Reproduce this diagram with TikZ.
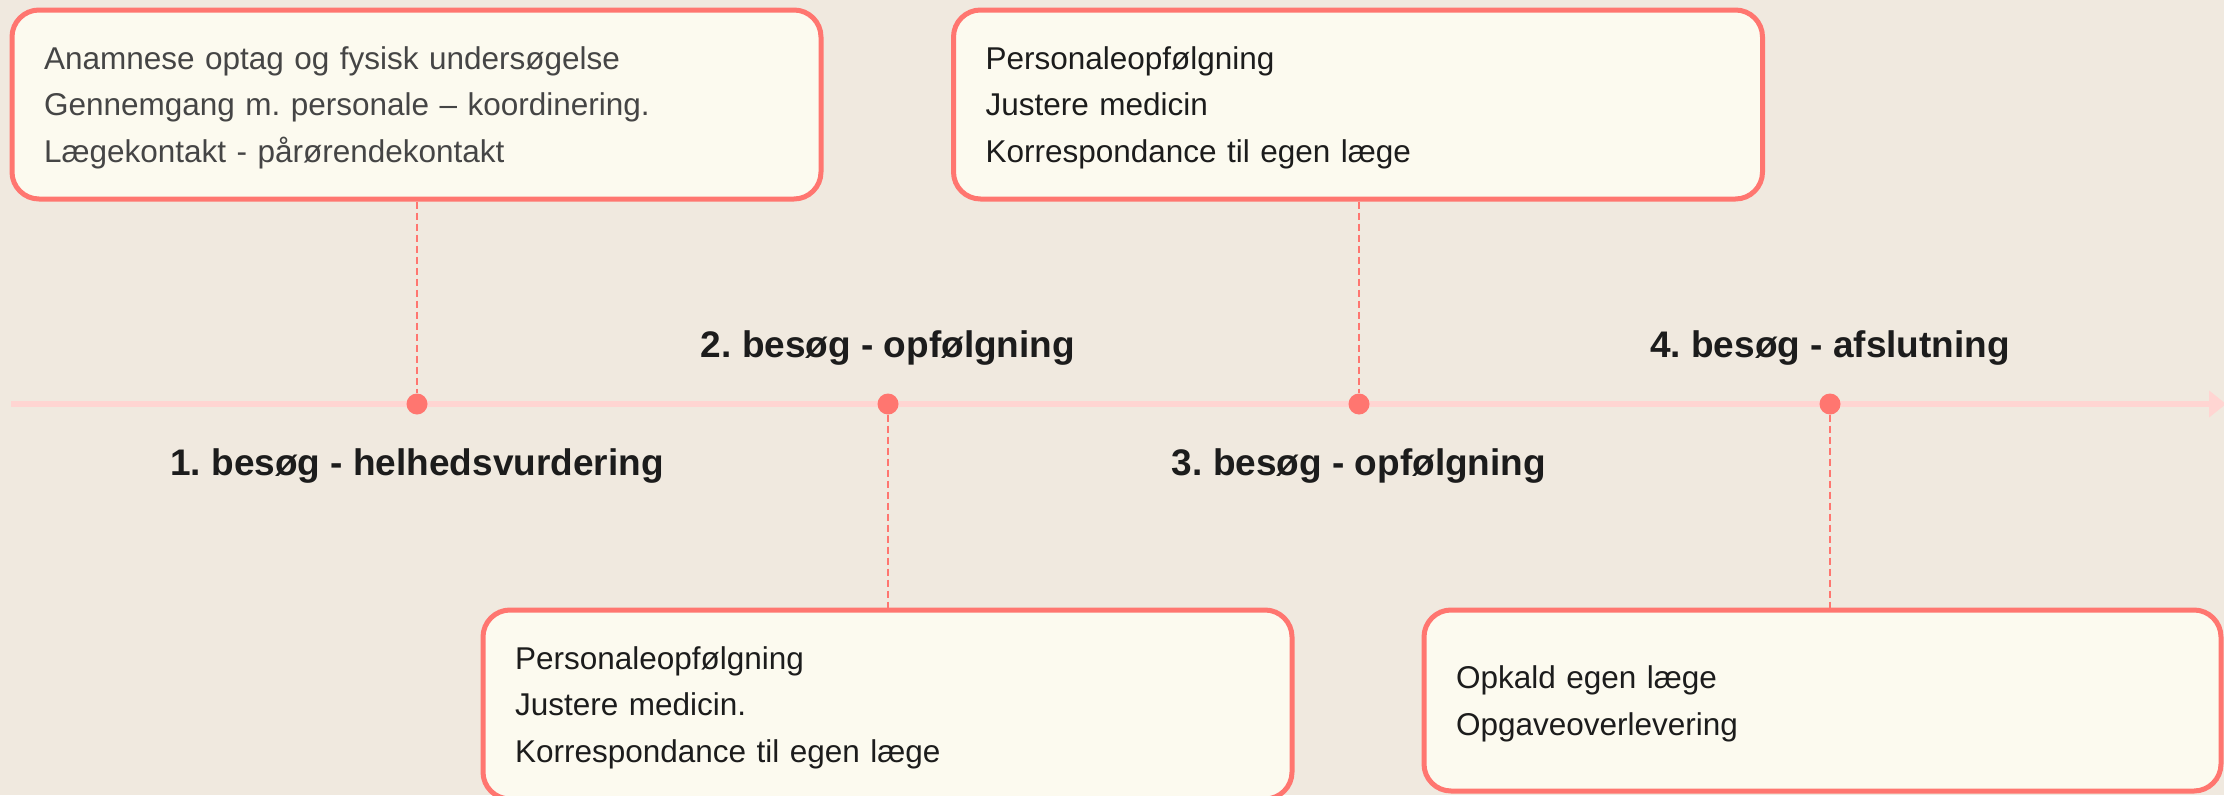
\documentclass[tikz,border=0pt]{standalone}
\usepackage{fontspec}
\setmainfont{Liberation Sans}
\usetikzlibrary{arrows.meta,calc}
\frenchspacing

\definecolor{pagebg}{HTML}{F0E9DF}
\definecolor{cardfill}{HTML}{FCFAEF}
\definecolor{accent}{HTML}{FF7670}
\definecolor{trackpink}{HTML}{FFD5D2}
\definecolor{inkgrey}{HTML}{454545}
\definecolor{inkdark}{HTML}{1C1C1C}

\tikzset{
  card/.style={draw=accent, fill=cardfill, line width=5pt, rounded corners=27pt,
    inner xsep=0pt, inner ysep=0pt, align=left, text width=745pt,
    minimum width=809pt, font=\fontsize{31.5pt}{46.7pt}\selectfont, text=inkdark,
    execute at begin node=\rule{0pt}{29pt}},
  milestone/.style={circle, fill=accent, draw=none, inner sep=0pt, minimum size=21pt},
  visitlabel/.style={font=\fontsize{37pt}{44pt}\selectfont\bfseries, text=inkdark, anchor=base, inner sep=0pt},
  leader/.style={draw=accent, line width=2pt, dash pattern=on 7pt off 4pt},
  track/.style={draw=trackpink, line width=6pt, -{Triangle[length=17pt,width=26pt]}}
}

\begin{document}
\begin{tikzpicture}[x=1pt,y=-1pt]
  % page
  \fill[pagebg] (0,0) rectangle (2224,795);
  \useasboundingbox (0,0) rectangle (2224,795);

  % time axis
  \coordinate (axisstart) at (11,404);
  \coordinate (axisend) at (2226,404);
  \draw[track] (axisstart) -- (axisend);

  % activity cards
  \node[card, minimum height=189pt, text=inkgrey] (card1) at (416.5,104.5)
    {Anamnese optag og fysisk undersøgelse\\
     Gennemgang m. personale – koordinering.\\
     Lægekontakt - pårørendekontakt};
  \node[card, minimum height=189pt] (card3) at (1358,104.5)
    {Personaleopfølgning\\
     Justere medicin\\
     Korrespondance til egen læge};
  \node[card, minimum height=189pt] (card2) at (887.5,704.5)
    {Personaleopfølgning\\
     Justere medicin.\\
     Korrespondance til egen læge};
  \node[card, minimum height=181pt, minimum width=797pt, text width=733pt] (card4) at (1822.5,700.5)
    {Opkald egen læge\\
     Opgaveoverlevering};

  % milestones on the axis
  \node[milestone] (m1) at (417,404) {};
  \node[milestone] (m2) at (888,404) {};
  \node[milestone] (m3) at (1359,404) {};
  \node[milestone] (m4) at (1830,404) {};

  % visit titles
  \node[visitlabel] (t1) at (417,475) {1. besøg - helhedsvurdering};
  \node[visitlabel] (t2) at (888,357) {2. besøg - opfølgning};
  \node[visitlabel] (t3) at (1359,475) {3. besøg - opfølgning};
  \node[visitlabel] (t4) at (1830,357) {4. besøg - afslutning};

  % leaders from cards to milestones
  \draw[leader] (m1 |- card1.south) -- (m1);
  \draw[leader] (m3 |- card3.south) -- (m3);
  \draw[leader] (m2) -- (m2 |- card2.north);
  \draw[leader] (m4) -- (m4 |- card4.north);
\end{tikzpicture}
\end{document}
